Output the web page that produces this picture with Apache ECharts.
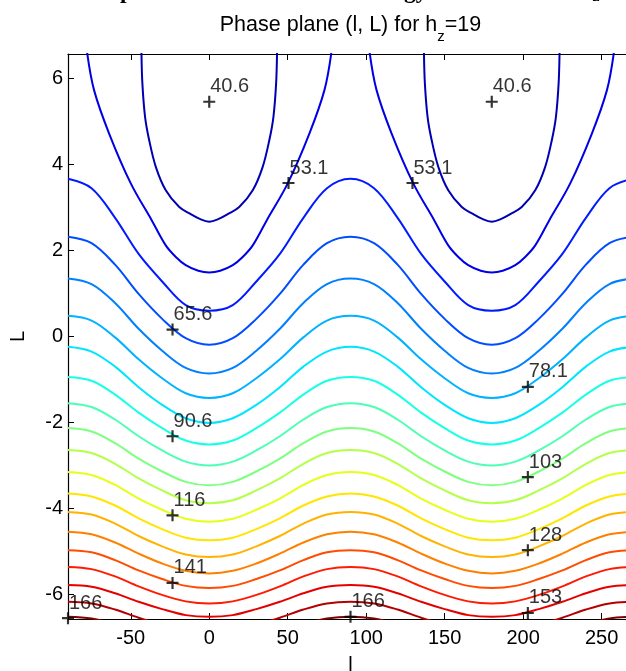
<!DOCTYPE html>
<html>
<head>
<meta charset="utf-8">
<script src="https://cdn.jsdelivr.net/npm/echarts@6/dist/echarts.min.js"></script>
<style>
  html, body { margin: 0; padding: 0; background: #fff; }
  #chart { width: 626px; height: 671px; }
</style>
</head>
<body>
<div id="chart"></div>
<script>
// contour levels, one every 6.25 (labels every other one)
const levels = [46.85, 53.1, 59.35, 65.6, 71.85, 78.1, 84.35, 90.6, 96.85, 103.1,
  109.35, 115.6, 121.85, 128.1, 134.35, 140.6, 146.85, 153.1, 159.35, 165.6];

// closed contours around l = 0 (repeat at l = 180), read for l >= 0
const c1l = [0, 6.4, 12, 19.1, 27.7, 34, 38.3, 40.9, 42.6, 43.2];
const c1L = [2.67, 2.74, 2.85, 3.01, 3.40, 3.94, 4.57, 5.11, 5.88, 6.6];
const c2l = [0, 7, 15, 21.3, 27.7, 36.6, 50, 63.8, 73.4, 77.8];
const c2L = [1.49, 1.53, 1.66, 1.85, 2.12, 2.70, 3.56, 4.72, 5.73, 6.6];

// open contours: L read at l = 0, 15, ... 90 (same shape every 180, mirrored)
const halfl = [0, 15, 30, 45, 60, 75, 90];
const openL = [
  [0.60, 0.73, 1.28, 1.92, 2.76, 3.45, 3.67],
  [-0.19, -0.04, 0.41, 0.99, 1.67, 2.17, 2.32],
  [-0.86, -0.73, -0.33, 0.18, 0.78, 1.22, 1.35],
  [-1.43, -1.32, -0.97, -0.53, -0.02, 0.37, 0.48],
  [-2.01, -1.90, -1.59, -1.18, -0.70, -0.35, -0.24],
  [-2.51, -2.42, -2.13, -1.77, -1.35, -1.03, -0.94],
  [-3.00, -2.91, -2.65, -2.32, -1.93, -1.64, -1.55],
  [-3.46, -3.38, -3.14, -2.84, -2.48, -2.21, -2.13],
  [-3.88, -3.81, -3.58, -3.30, -2.96, -2.71, -2.64],
  [-4.31, -4.24, -4.03, -3.77, -3.45, -3.22, -3.15],
  [-4.74, -4.68, -4.48, -4.23, -3.93, -3.72, -3.65],
  [-5.13, -5.07, -4.88, -4.64, -4.35, -4.14, -4.08],
  [-5.51, -5.45, -5.28, -5.05, -4.79, -4.60, -4.54],
  [-5.85, -5.80, -5.64, -5.44, -5.20, -5.02, -4.97],
  [-6.21, -6.16, -6.01, -5.81, -5.58, -5.41, -5.36],
  [-6.52, -6.48, -6.34, -6.17, -5.97, -5.82, -5.78],
  [-6.87, -6.83, -6.70, -6.54, -6.35, -6.21, -6.17],
  [-7.18, -7.14, -7.02, -6.87, -6.69, -6.56, -6.52],
];

// contour labels: l, L, text
const labelL = [0, 180, 50.5, 129.5, -23.4, 203, -23.4, 203, -23.4, 203, -23.4, 203, 90, -90];
const labelY = [5.46, 5.46, 3.57, 3.57, 0.16, -1.17, -2.32, -3.27, -4.16, -4.97, -5.73, -6.43, -6.52, -6.55];
const labelText = ["40.6", "40.6", "53.1", "53.1", "65.6", "78.1", "90.6", "103", "116", "128", "141", "153", "166", "166"];

// tick labels
const xTicks = [-50, 0, 50, 100, 150, 200, 250];
const yTicks = [-6, -4, -2, 0, 2, 4, 6];

const FONT = '"Liberation Sans", Arial, Helvetica, sans-serif';
const SERIF = '"Liberation Serif", "Times New Roman", serif';

// jet colormap over the level range
function jet(v) {
  const t = (v - 40.6) / 125;
  const c = (x) => Math.round(255 * Math.max(0, Math.min(1, x)));
  return `rgb(${c(1.5 - Math.abs(4 * t - 3))},${c(1.5 - Math.abs(4 * t - 2))},${c(1.5 - Math.abs(4 * t - 1))})`;
}

function closedPiece(ls, Ls, center) {
  const pts = [];
  for (let i = ls.length - 1; i > 0; i--) pts.push([center - ls[i], Ls[i]]);
  for (let i = 0; i < ls.length; i++) pts.push([center + ls[i], Ls[i]]);
  return pts;
}

function openCurve(prof) {
  const pts = [];
  for (let l = -90; l <= 270; l += 15) {
    let m = ((l % 180) + 180) % 180;
    if (m > 90) m = 180 - m;
    pts.push([l, prof[halfl.indexOf(m)]]);
  }
  return pts;
}

const series = [];
function addLine(data, level) {
  series.push({
    type: "line",
    data: data,
    smooth: 0.35,
    symbol: "none",
    clip: true,
    lineStyle: { color: jet(level), width: 2 },
    silent: true,
    z: 2,
  });
}
[0, 180].forEach((c) => {
  addLine(closedPiece(c1l, c1L, c), levels[0]);
  addLine(closedPiece(c2l, c2L, c), levels[1]);
});
openL.forEach((prof, i) => addLine(openCurve(prof), levels[i + 2]));

series.push({
  type: "scatter",
  symbol: "path://M4.1,0H5.9V4.1H10V5.9H5.9V10H4.1V5.9H0V4.1H4.1Z",
  symbolSize: 12,
  itemStyle: { color: "#000" },
  clip: false,
  z: 5,
  data: labelL.map((l, i) => [l, labelY[i], labelText[i]]),
  label: {
    show: true,
    position: "right",
    distance: 0,
    offset: [-5, -15],
    formatter: (p) => p.value[2],
    color: "#000",
    fontSize: 20,
    fontFamily: FONT,
  },
});

const myChart = echarts.init(document.querySelector("#chart"), null, { renderer: "canvas" });

// text measuring for the titles
const ctx = document.createElement("canvas").getContext("2d");
function tw(t, font) {
  ctx.font = font;
  return ctx.measureText(t).width;
}
// title with subscript, centred on the plot box
const t1 = "Phase plane (l, L) for h", t2 = "z", t3 = "=19";
const f1 = "21.5px " + FONT, f2 = "15px " + FONT;
const w1 = tw(t1, f1), w2 = tw(t2, f2), w3 = tw(t3, f1);
const tx = 350.5 - (w1 + w2 + w3) / 2;

// upper bold title, cut off by the top edge of the picture
const s1 = "Map of the conserved total energy curves at fixed h", s2 = "z";
const pStart = tw("Ma", "bold 100px " + SERIF), gStart = tw("Map of the conserved total ener", "bold 100px " + SERIF);
const sSize = (284 * 100) / (gStart - pStart);
const sx = 120 - (pStart * sSize) / 100;
const sw = tw(s1, "bold " + sSize + "px " + SERIF);

const axisCommon = {
  type: "value",
  axisLine: { show: true, onZero: false, lineStyle: { color: "#000", width: 1.2 } },
  splitLine: { show: false },
};

const option = {
  animation: false,
  backgroundColor: "#fff",
  grid: { left: 68, right: -7, top: 54, bottom: 52, containLabel: false, outerBoundsMode: "none" },
  xAxis: [
    {
      ...axisCommon,
      position: "bottom",
      min: -90,
      max: 270,
      axisTick: { inside: true, length: 6, customValues: xTicks, lineStyle: { color: "#000" } },
      axisLabel: { customValues: xTicks, fontSize: 20, color: "#000", margin: 9, fontFamily: FONT },
      name: "l",
      nameLocation: "middle",
      nameGap: 36,
      nameTextStyle: { fontSize: 20, color: "#000", fontFamily: FONT },
    },
    {
      ...axisCommon,
      position: "top",
      min: -90,
      max: 270,
      axisTick: { inside: true, length: 6, customValues: xTicks, lineStyle: { color: "#000" } },
      axisLabel: { show: false },
    },
  ],
  yAxis: {
    ...axisCommon,
    min: -6.57,
    max: 6.57,
    axisTick: { inside: true, length: 6, customValues: yTicks, lineStyle: { color: "#000" } },
    axisLabel: { customValues: yTicks, fontSize: 20, color: "#000", margin: 5, fontFamily: FONT },
    name: "L",
    nameLocation: "middle",
    nameGap: 40,
    nameTextStyle: { fontSize: 20, color: "#000", fontFamily: FONT },
  },
  graphic: [
    { type: "text", left: sx, top: -0.84 * sSize, style: { text: s1, font: "bold " + sSize + "px " + SERIF, fill: "#000" } },
    { type: "text", left: sx + sw - 6, top: 2 - 0.84 * 16, style: { text: s2, font: "bold 16px " + SERIF, fill: "#000" } },
    { type: "text", left: tx, top: 14, style: { text: t1, font: f1, fill: "#000" } },
    { type: "text", left: tx + w1, top: 29, style: { text: t2, font: f2, fill: "#000" } },
    { type: "text", left: tx + w1 + w2, top: 14, style: { text: t3, font: f1, fill: "#000" } },
  ],
  series: series,
};
myChart.setOption(option);
</script>
</body>
</html>
